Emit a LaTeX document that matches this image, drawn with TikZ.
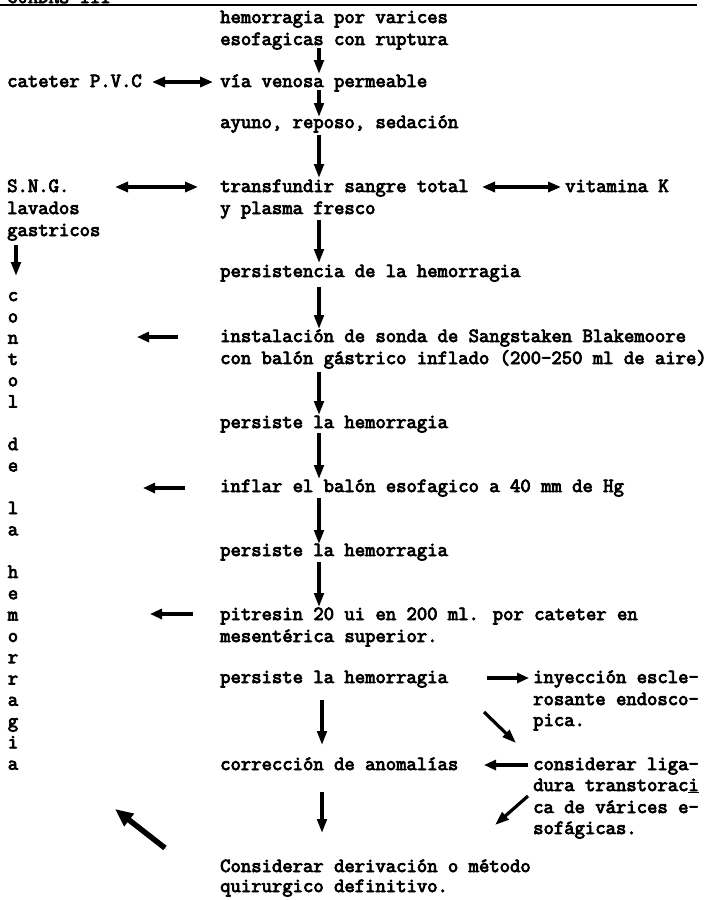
\documentclass[tikz,border=0pt]{standalone}
\usepackage{fontspec}
\usetikzlibrary{arrows.meta}
\newfontfamily\tw[FakeBold=4]{Latin Modern Mono}
\begin{document}
\begin{tikzpicture}[x=1pt,y=-1pt,
  txt/.style={font=\tw\fontsize{20.1}{21.3}\selectfont, inner sep=0pt, anchor=base west},
  vl/.style={font=\tw\fontsize{20.1}{21.3}\selectfont, inner sep=0pt, anchor=base},
  arr/.style={line width=3.2pt, -{Triangle[length=14pt,width=9.5pt]}},
  larr/.style={line width=4.2pt, -{Triangle[length=12pt,width=10pt]}},
  darr/.style={line width=3.6pt, {Triangle[length=13pt,width=10pt]}-{Triangle[length=13pt,width=10pt]}},
  barr/.style={line width=5.5pt, -{Triangle[length=18pt,width=15pt]}}]
\useasboundingbox (0,0) rectangle (723,900);
\fill[white] (0,0) rectangle (723,900);
% header
\node[txt] (hdr) at (7,3) {CUADRO III};
\draw[line width=1.8pt] (0,5) coordinate (hl) -- (697,5) coordinate (hr);
% main column
\node[txt] (t1) at (220,23) {hemorragia por varices};
\node[txt] (t2) at (220,45) {esofagicas con ruptura};
\node[txt] (pvc) at (7,87) {cateter P.V.C};
\node[txt] (via) at (220,87) {vía venosa permeable};
\node[txt] (ayu) at (220,128) {ayuno, reposo, sedación};
\node[txt] (sng) at (7,192) {S.N.G.};
\node[txt] (trf) at (220,192) {transfundir sangre total};
\node[txt] (vitk) at (565,192) {vitamina K};
\node[txt] (lav) at (7,214) {lavados};
\node[txt] (pla) at (220,214) {y plasma fresco};
\node[txt] (gas) at (7,236) {gastricos};
\node[txt] (per0) at (220,277) {persistencia de la hemorragia};
\node[txt] (ins1) at (220,342) {instalación de sonda de Sangstaken Blakemoore};
\node[txt] (ins2) at (220,364) {con balón gástrico inflado (200-250 ml de aire)};
\node[txt] (per1) at (220,428) {persiste la hemorragia};
\node[txt] (inf) at (220,492) {inflar el balón esofagico a 40 mm de Hg};
\node[txt] (per2) at (220,556) {persiste la hemorragia};
\node[txt] (pit1) at (220,620) {pitresin 20 ui en 200 ml. por cateter en};
\node[txt] (pit2) at (220,642) {mesentérica superior.};
\node[txt] (per3) at (220,683) {persiste la hemorragia};
\node[txt] (iny1) at (533,683) {inyección escle-};
\node[txt] (iny2) at (533,705) {rosante endosco-};
\node[txt] (iny3) at (533,726) {pica.};
\node[txt] (cor) at (220,770) {corrección de anomalías};
\node[txt] (lig1) at (533,770) {considerar liga-};
\node[txt] (lig2) at (533,791) {dura transtorac\underline{i}};
\node[txt] (lig3) at (533,813) {ca de várices e-};
\node[txt] (lig4) at (533,834) {sofágicas.};
\node[txt] (der1) at (220,872) {Considerar derivación o método};
\node[txt] (der2) at (220,892) {quirurgico definitivo.};
% vertical word
\foreach \ch/\k in {c/0,o/1,n/2,t/3,o/4,l/5,d/7,e/8,l/10,a/11,h/13,e/14,m/15,o/16,r/17,r/18,a/19,g/20,i/21,a/22}{
  \node[vl] (v\k) at (13,301+21.3*\k) {\ch};
}
% arrow end points
\coordinate (a1s) at (319,48);  \coordinate (a1e) at (319,74);
\coordinate (a2s) at (319,90);  \coordinate (a2e) at (319,117);
\coordinate (a3s) at (319,135); \coordinate (a3e) at (319,178);
\coordinate (a4s) at (319,220); \coordinate (a4e) at (319,263);
\coordinate (a5s) at (319,287); \coordinate (a5e) at (319,329);
\coordinate (a6s) at (319,372); \coordinate (a6e) at (319,415);
\coordinate (a7s) at (319,433); \coordinate (a7e) at (319,479);
\coordinate (a8s) at (319,498); \coordinate (a8e) at (319,544);
\coordinate (a9s) at (319,562); \coordinate (a9e) at (319,607);
\coordinate (a10s) at (322,700); \coordinate (a10e) at (322,745);
\coordinate (a11s) at (322,792); \coordinate (a11e) at (322,833);
\coordinate (ld1) at (16,245); \coordinate (ld2) at (16,276);
\coordinate (l1s) at (178,337); \coordinate (l1e) at (137,337);
\coordinate (l2s) at (185,488); \coordinate (l2e) at (143,488);
\coordinate (l3s) at (193,614); \coordinate (l3e) at (150,614);
\coordinate (d1a) at (152,82); \coordinate (d1b) at (213,82);
\coordinate (d2a) at (115,187); \coordinate (d2b) at (198,187);
\coordinate (d3a) at (482,187); \coordinate (d3b) at (561,187);
\coordinate (r1s) at (487,678); \coordinate (r1e) at (529,678);
\coordinate (g1s) at (484,712); \coordinate (g1e) at (516,743);
\coordinate (l4s) at (528,765); \coordinate (l4e) at (484,765);
\coordinate (g2s) at (528,796); \coordinate (g2e) at (495,825);
\coordinate (bgs) at (165,848); \coordinate (bge) at (115,809);
% arrows
\foreach \n in {1,...,11}{\draw[arr] (a\n s) -- (a\n e);}
\draw[arr] (ld1) -- (ld2);
\draw[larr] (l1s) -- (l1e);
\draw[larr] (l2s) -- (l2e);
\draw[larr] (l3s) -- (l3e);
\draw[larr] (l4s) -- (l4e);
\draw[larr] (r1s) -- (r1e);
\draw[darr] (d1a) -- (d1b);
\draw[darr] (d2a) -- (d2b);
\draw[darr] (d3a) -- (d3b);
\draw[arr] (g1s) -- (g1e);
\draw[arr] (g2s) -- (g2e);
\draw[barr] (bgs) -- (bge);
\end{tikzpicture}
\end{document}
